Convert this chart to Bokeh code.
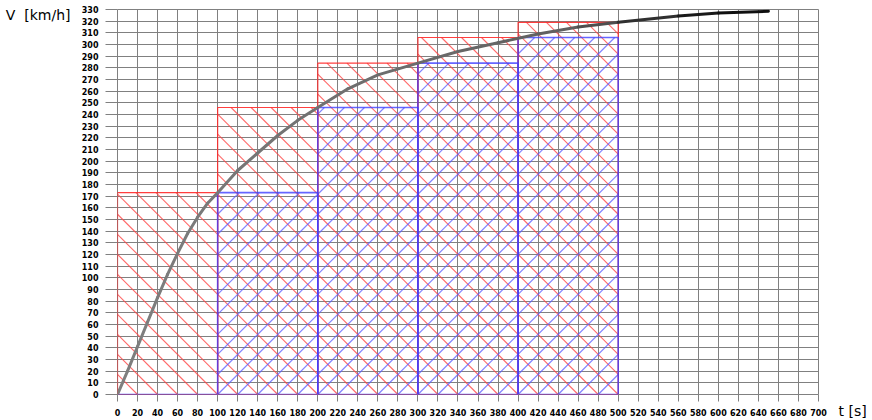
import math
import numpy as np
from bokeh.plotting import figure
from bokeh.models import FixedTicker, LinearAxis
from bokeh.embed import file_html
from bokeh.resources import INLINE

# ---- data ----
t_curve = [0, 10, 20, 30, 40, 50, 60, 70, 80, 90, 100, 120, 140, 160, 180, 200,
           230, 260, 300, 340, 380, 420, 460, 500, 560, 600, 650]
v_curve = [0, 20, 41, 62, 83, 103, 121, 138, 152, 164, 173, 192, 207, 222, 235, 246,
           262, 274, 284, 294, 301.5, 309, 315, 319, 324.5, 327, 328.5]

upper_left = [0, 100, 200, 300, 400]
upper_right = [100, 200, 300, 400, 500]
upper_top = [173, 246, 284, 306, 319]

lower_left = [0, 100, 200, 300, 400]
lower_right = [100, 200, 300, 400, 500]
lower_top = [0, 173, 246, 284, 306]

x_ticks = list(range(0, 701, 20))
y_ticks = list(range(0, 331, 10))

y_title = "V\u00a0\u00a0[km/h]"
x_title = "\u00a0\n\u00a0\nt\u00a0[s]"

GRID = "#808080"
W, H = 872, 420
BL, BR, BT, BB = 117, 54, 9, 26
X0, X1, Y0, Y1 = 0, 700, 0, 330

p = figure(width=W, height=H, x_range=(X0, X1), y_range=(Y0, Y1),
           output_backend="svg", toolbar_location=None, title=None,
           min_border_left=BL, min_border_right=BR, min_border_top=BT,
           min_border_bottom=BB)
p.background_fill_color = "white"
p.border_fill_color = "white"
p.outline_line_color = GRID

p.xaxis.ticker = FixedTicker(ticks=x_ticks)
p.yaxis.ticker = FixedTicker(ticks=y_ticks)
for ax in (p.xaxis, p.yaxis):
    ax.axis_line_color = None
    ax.major_tick_line_color = GRID
    ax.major_tick_in = 0
    ax.minor_tick_line_color = None
    ax.major_label_text_font = "DejaVu Sans"
    ax.major_label_text_font_style = "bold"
    ax.major_label_text_font_size = "8px"
    ax.major_label_text_color = "black"
p.xaxis.major_tick_out = 7
p.xaxis.major_label_standoff = 7
p.yaxis.major_tick_out = 12
p.yaxis.major_label_standoff = 7

# outer left axis carrying the "V [km/h]" title near the top
ytitle_axis = LinearAxis(ticker=FixedTicker(ticks=[325]),
                         major_label_overrides={325: y_title})
# right axis carrying the "t [s]" title at the bottom right
xtitle_axis = LinearAxis(ticker=FixedTicker(ticks=[0]),
                         major_label_overrides={0: x_title})
for ax, size in ((ytitle_axis, "14px"), (xtitle_axis, "14px")):
    ax.axis_line_color = None
    ax.major_tick_line_color = None
    ax.minor_tick_line_color = None
    ax.major_tick_in = 0
    ax.major_tick_out = 0
    ax.major_label_text_font = "DejaVu Sans"
    ax.major_label_text_font_size = size
    ax.major_label_text_color = "black"
ytitle_axis.major_label_standoff = 8
xtitle_axis.major_label_standoff = 20
p.add_layout(ytitle_axis, "left")
p.add_layout(xtitle_axis, "right")

p.xgrid.grid_line_color = GRID
p.ygrid.grid_line_color = GRID
p.xgrid.grid_line_width = 1
p.ygrid.grid_line_width = 1

# ---- 45-degree hatching (on screen), 20 s apart, clipped to each rectangle ----
kx = (W - BL - BR) / (X1 - X0)
ky = (H - BT - BB) / (Y1 - Y0)
slope = kx / ky
STEP = 20


def hatch(lefts, rights, tops, down):
    xs0, ys0, xs1, ys1 = [], [], [], []
    for l, r, top in zip(lefts, rights, tops):
        if top <= 0:
            continue
        span = top / slope
        if down:  # "\" lines: v = slope * (c - t)
            c = STEP * math.ceil(l / STEP)
            while c <= r + span + 1e-9:
                ta, tb = max(l, c - span), min(r, c)
                if tb - ta > 1e-6:
                    xs0.append(ta); ys0.append(slope * (c - ta))
                    xs1.append(tb); ys1.append(slope * (c - tb))
                c += STEP
        else:  # "/" lines: v = slope * (t - c)
            c = STEP * math.floor((l - span) / STEP)
            while c <= r + 1e-9:
                ta, tb = max(l, c), min(r, c + span)
                if tb - ta > 1e-6:
                    xs0.append(ta); ys0.append(slope * (ta - c))
                    xs1.append(tb); ys1.append(slope * (tb - c))
                c += STEP
    return xs0, ys0, xs1, ys1


rx0, ry0, rx1, ry1 = hatch(upper_left, upper_right, upper_top, True)
p.segment(x0=rx0, y0=ry0, x1=rx1, y1=ry1, line_color="#ff4444",
          line_alpha=0.8, line_width=1.1)
bx0, by0, bx1, by1 = hatch(lower_left, lower_right, lower_top, False)
p.segment(x0=bx0, y0=by0, x1=bx1, y1=by1, line_color="#5a5aff",
          line_alpha=0.75, line_width=1.2)

# rectangle outlines
p.quad(left=upper_left, right=upper_right, bottom=0, top=upper_top,
       fill_color=None, line_color="#ff2a2a", line_width=1.2, line_alpha=0.9)
p.quad(left=lower_left, right=lower_right, bottom=0, top=lower_top,
       fill_color=None, line_color="#4040ff", line_width=1.6, line_alpha=0.8)

# curve, grey turning to black towards the end
t_arr = np.array(t_curve, dtype=float)
mid = (t_arr[:-1] + t_arr[1:]) / 2
levels = np.interp(mid, [0, 450, 560, 650], [128, 96, 30, 10]).astype(int)
colors = ["#%02x%02x%02x" % (g, g, g) for g in levels]
p.segment(x0=t_curve[:-1], y0=v_curve[:-1], x1=t_curve[1:], y1=v_curve[1:],
          line_color=colors, line_width=3, line_cap="round")

open("out.html", "w").write(file_html(p, INLINE))
